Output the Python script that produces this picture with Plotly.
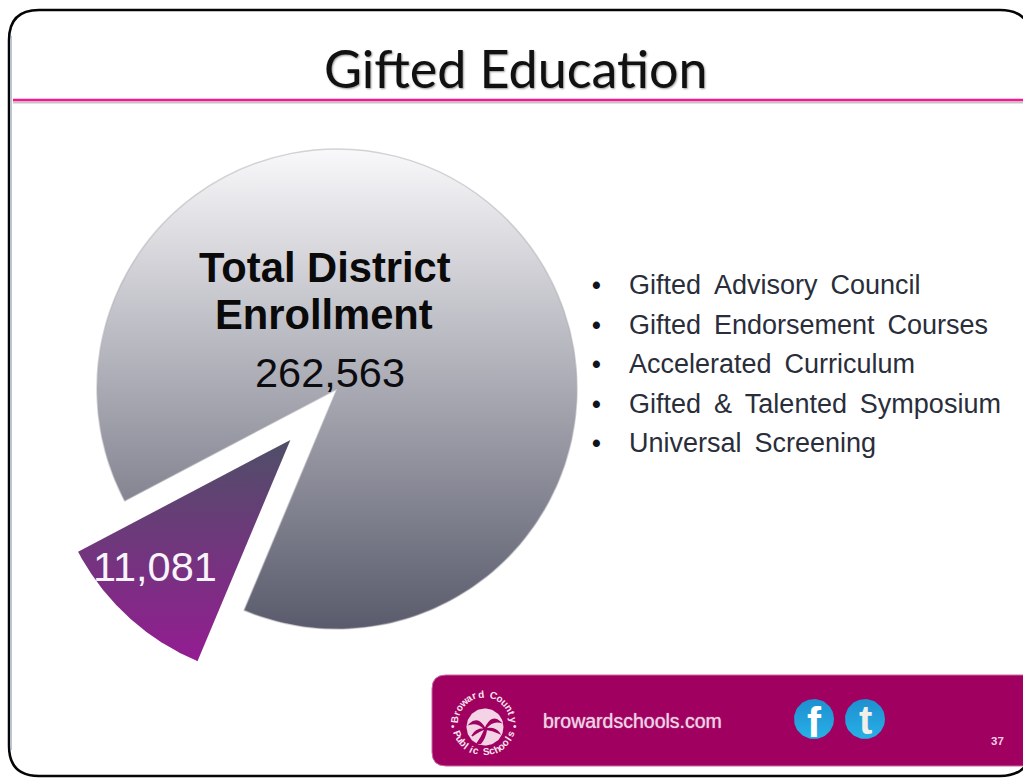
import numpy as np
import plotly.graph_objects as go

# ---- content ----
title = "Gifted Education"
slice_labels = ["Total District Enrollment", "Gifted"]
slice_counts = ["262,563", "11,081"]
# visual share of each drawn slice (as measured on the picture, in percent)
slice_share = [89.05, 10.95]
bullets = ["Gifted  Advisory  Council", "Gifted  Endorsement  Courses",
           "Accelerated  Curriculum", "Gifted  &  Talented  Symposium",
           "Universal  Screening"]
site = "browardschools.com"
page_no = "37"
ring_top = "Broward County"
ring_bottom = "Public Schools"

W, H = 1023, 778
CX, CY, R = 337, 389, 240
ROT = 242.2
PULL = 0.2875
SANS = "Liberation Sans"


def sector(start_deg, sweep_deg, ox=0.0, oy=0.0):
    a = np.radians(np.linspace(start_deg, start_deg + sweep_deg, 240))
    xs = CX + ox + R * np.sin(a)
    ys = CY + oy - R * np.cos(a)
    return (np.r_[CX + ox, xs, CX + ox], np.r_[CY + oy, ys, CY + oy])


def disc(cx, cy, r):
    a = np.linspace(0, 2 * np.pi, 80)
    return cx + r * np.cos(a), cy + r * np.sin(a)


fig = go.Figure()


def grad_fill(x, y, y0, y1, c0, c1):
    fig.add_trace(go.Scatter(
        x=x, y=y, mode="lines", line=dict(width=0), fill="toself", hoverinfo="skip",
        fillgradient=dict(type="vertical", start=y0, stop=y1,
                          colorscale=[[0, c0], [1, c1]]),
        showlegend=False))


sweep = [s / sum(slice_share) * 360 for s in slice_share]

# main slice with gradient
mx, my = sector(ROT, sweep[0])
grad_fill(mx, my, 148, 630, "#f9f9fb", "#595a6b")

# pulled slice with gradient
mid = np.radians(ROT + sweep[0] + sweep[1] / 2)
ox, oy = PULL * R * np.sin(mid), -PULL * R * np.cos(mid)
wx, wy = sector(ROT + sweep[0], sweep[1], ox, oy)
grad_fill(wx, wy, 440, 662, "#4f4f68", "#941c92")

# the pie itself (fills supplied by the gradients underneath, outline on top)
half = R * (1 + PULL)
fig.add_trace(go.Pie(
    labels=slice_labels, values=slice_share, sort=False, direction="clockwise",
    rotation=ROT, pull=[0, PULL], textinfo="none", hoverinfo="label",
    marker=dict(colors=["rgba(0,0,0,0)", "rgba(0,0,0,0)"],
                line=dict(color=["rgba(170,170,178,0.5)", "rgba(0,0,0,0)"], width=1.5)),
    domain=dict(x=[(CX - half) / W, (CX + half) / W],
                y=[1 - (CY + half) / H, 1 - (CY - half) / H]),
    showlegend=False))

# social icons
ix, iy = disc(814, 719, 20)
grad_fill(ix, iy, 699, 739, "#1f8fd0", "#27b0e6")
ix, iy = disc(865, 719, 20)
grad_fill(ix, iy, 699, 739, "#1f8fd0", "#27b0e6")

# logo peach
ix, iy = disc(485, 727, 18.5)
fig.add_trace(go.Scatter(x=ix, y=iy, mode="lines", line=dict(width=0), fill="toself",
                         fillcolor="#f3d3e6", hoverinfo="skip", showlegend=False))

shapes = [
    # slide frame
    dict(type="path", layer="below", xref="x", yref="y",
         path="M 39 10 L 1000 10 Q 1030 10 1032 40 L 1032 746 Q 1030 776 1000 776 "
              "L 39 776 Q 9 776 9 746 L 9 40 Q 9 10 39 10 Z",
         line=dict(color="#050505", width=2.5), fillcolor="#ffffff"),
    dict(type="line", layer="below", x0=11.5, x1=11.5, y0=36, y1=750,
         line=dict(color="#b5c8e2", width=1)),
    # header rule with its shadow
    dict(type="line", layer="below", x0=13, x1=1023, y0=102.5, y1=102.5,
         line=dict(color="#c9c3c9", width=2)),
    dict(type="line", layer="below", x0=13, x1=1023, y0=100, y1=100,
         line=dict(color="#f6188e", width=2.5)),
    # footer band
    dict(type="path", layer="below", xref="x", yref="y",
         path="M 446 675 L 1040 675 L 1040 766 L 446 766 Q 432 766 432 752 "
              "L 432 689 Q 432 675 446 675 Z",
         line=dict(color="#c868a0", width=1), fillcolor="#a0005f"),
    # palm on the logo peach
    dict(type="path", xref="x", yref="y",
         path="M 484 730 Q 481 737 476 744 L 481 744 Q 486 738 487 730 Z",
         line=dict(width=0), fillcolor="#a0005f"),
    dict(type="path", xref="x", yref="y",
         path="M 485 729 Q 478 716 470 724 Q 478 722 485 729 Q 492 714 500 722 "
              "Q 492 720 485 729 Q 476 728 472 736 Q 480 730 485 729 Q 495 727 499 733 "
              "Q 493 730 485 729 Z",
         line=dict(color="#a0005f", width=1.5), fillcolor="#a0005f"),
]


def txt(x, y, s, size, color, bold=False, anchor="center", family=SANS, angle=0, shadow=None):
    font = dict(family=family, size=size, color=color, weight=700 if bold else 400)
    if shadow:
        font["shadow"] = shadow
    return dict(x=x, y=y, xref="x", yref="y", text=s, showarrow=False, xanchor=anchor,
                yanchor="middle", font=font, textangle=angle, borderpad=0, borderwidth=0)


anns = [
    txt(516, 68, title, 52, "#111111", family="Lato", shadow="1px 1px 2px #9a9a9a"),
    txt(325, 267, "Total District", 41.7, "#0a0a0a", bold=True),
    txt(324, 314, "Enrollment", 41.7, "#0a0a0a", bold=True),
    txt(330, 372, slice_counts[0], 41.5, "#0c0c10"),
    txt(155, 566, slice_counts[1], 41.5, "#f8f4fb"),
    txt(632, 721, site, 19.5, "#ecd0e2", shadow="0 0 1px #ecd0e2"),
    txt(997, 741, page_no, 11.5, "#f2cfe4", bold=True),
    txt(814, 722, "f", 42, "#ffffff", bold=True),
    txt(865, 720, "t", 40, "#f2efe8", bold=True),
]

bullet_y = [285, 325, 364, 404, 443]
for yy, line in zip(bullet_y, bullets):
    anns.append(txt(596, yy, "•", 25, "#10131c", bold=True))
    anns.append(txt(629, yy, line.replace("  ", "\u00a0\u2009"), 27, "#2a2e3a", anchor="left"))

# ring lettering around the logo
RC = (484, 723)
RR = 29
for i, ch in enumerate(ring_top):
    ang = -84 + 168 * i / (len(ring_top) - 1)
    a = np.radians(ang)
    anns.append(txt(RC[0] + RR * np.sin(a), RC[1] - RR * np.cos(a), ch, 10, "#f8e4f0",
                    bold=True, angle=ang))
for i, ch in enumerate(ring_bottom):
    ang = -68 + 136 * i / (len(ring_bottom) - 1)
    a = np.radians(ang)
    anns.append(txt(RC[0] + RR * np.sin(a), RC[1] + RR * np.cos(a), ch, 10, "#f8e4f0",
                    bold=True, angle=-ang))
anns.append(txt(RC[0] - 31, RC[1] + 3, "•", 10, "#f8e4f0"))
anns.append(txt(RC[0] + 31, RC[1] + 3, "•", 10, "#f8e4f0"))

fig.update_layout(
    width=W, height=H, margin=dict(l=0, r=0, t=0, b=0), autosize=False,
    paper_bgcolor="#ffffff", plot_bgcolor="rgba(0,0,0,0)", showlegend=False,
    xaxis=dict(range=[0, W], visible=False, fixedrange=True),
    yaxis=dict(range=[H, 0], visible=False, fixedrange=True),
    shapes=shapes, annotations=anns,
)

fig.write_html("out.html", config=dict(displayModeBar=False),
               post_script="document.body.style.margin='0';document.body.style.overflow='hidden';")
